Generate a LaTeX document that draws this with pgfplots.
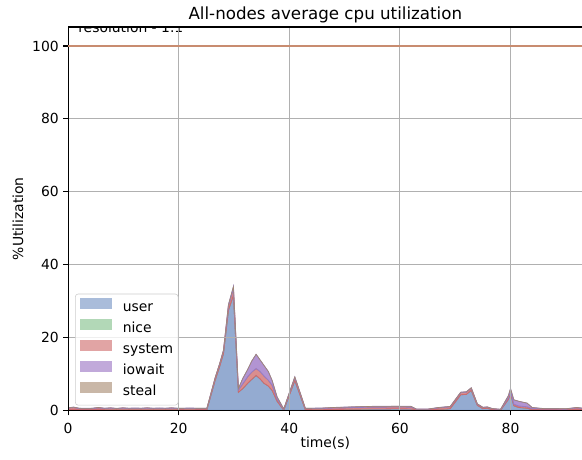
\documentclass[border=0pt]{standalone}
\usepackage{fontspec}
\setmainfont{DejaVu Sans}
\usepackage{pgfplots}
\usepackage{pgfplotstable}
\pgfplotsset{compat=1.18}
\definecolor{cuser}{RGB}{148,171,209}
\definecolor{cnice}{RGB}{160,206,166}
\definecolor{csys}{RGB}{218,142,142}
\definecolor{cio}{RGB}{178,148,210}
\definecolor{csteal}{RGB}{188,166,145}
\definecolor{euser}{RGB}{105,137,189}
\definecolor{enice}{RGB}{110,180,125}
\definecolor{esys}{RGB}{205,106,110}
\definecolor{eio}{RGB}{150,125,195}
\definecolor{esteal}{RGB}{160,135,110}
\definecolor{cline}{RGB}{200,140,112}
\def\u{0.72pt}
\pgfplotstableread{
t user nice system iowait steal
0 0.2 0 0.4 0.1 0
1 0.3 0 0.5 0.1 0
2 0.2 0 0.3 0.1 0
3.3 0.2 0 0.3 0.05 0
4.4 0.2 0 0.3 0.1 0
5.5 0.3 0 0.4 0.1 0
6.6 0.2 0 0.3 0.1 0
7.7 0.2 0 0.4 0.1 0
8.8 0.2 0 0.3 0.05 0
9.9 0.2 0 0.4 0.1 0
11 0.2 0 0.3 0.1 0
12.1 0.2 0 0.35 0.1 0
13.2 0.2 0 0.3 0.1 0
14.3 0.2 0 0.4 0.1 0
15.4 0.2 0 0.3 0.1 0
16.5 0.2 0 0.35 0.1 0
17.6 0.2 0 0.3 0.1 0
18.7 0.2 0 0.4 0.1 0
19.8 0.2 0 0.3 0.1 0
20.9 0.2 0 0.3 0.1 0
22 0.2 0 0.35 0.1 0
23.1 0.2 0 0.3 0.1 0
24.2 0.2 0 0.3 0.1 0
25.1 0.2 0 0.3 0.1 0
26.6 8.3 0 0.6 0.1 0
27.4 12 0 0.7 0.1 0
28.1 15.6 0 0.8 0.1 0
29 27.5 0 1.2 0.3 0
29.9 31.6 0 1.8 0.6 0
30.8 5.0 0 0.6 0.4 0
31.6 6.0 0 1.3 1.5 0
32.5 7.5 0 1.8 2.0 0
33.2 8.5 0 2.0 3.0 0
34 9.6 0 1.9 3.9 0
34.7 8.7 0 2.0 3.2 0
35.4 7.5 0 2.0 2.9 0
36.2 6.7 0 1.6 2.4 0
36.9 5.5 0 1.4 1.3 0
37.8 2.5 0 0.6 0.6 0
39 0.1 0 0.2 0.1 0
41 8.2 0 0.8 0.2 0
42.9 0.2 0 0.3 0.1 0
44 0.2 0 0.3 0.1 0
46 0.2 0 0.35 0.1 0
48 0.25 0 0.4 0.15 0
50 0.3 0 0.4 0.2 0
52 0.35 0 0.45 0.2 0
55 0.4 0 0.5 0.2 0
57 0.4 0 0.5 0.2 0
59 0.45 0 0.5 0.2 0
62 0.4 0 0.5 0.2 0
63 0.1 0 0.2 0.05 0
65 0.1 0 0.2 0.05 0
67 0.3 0 0.4 0.1 0
68.5 0.4 0 0.5 0.1 0
69.1 0.5 0 0.5 0.1 0
71 4.3 0 0.6 0.1 0
72 4.4 0 0.6 0.1 0
72.9 5.5 0 0.6 0.1 0
74 1.4 0 0.3 0.1 0
75 0.5 0 0.3 0.05 0
75.8 0.6 0 0.3 0.05 0
76.7 0.2 0 0.25 0.05 0
78.2 0.05 0 0.2 0.05 0
79.6 3.0 0 0.5 0.5 0
80 4.6 0 0.6 0.8 0
80.6 1.3 0 0.4 1.2 0
81.5 0.8 0 0.4 1.3 0
83 0.6 0 0.4 1.0 0
83.9 0.2 0 0.3 0.3 0
86 0.1 0 0.3 0.1 0
88 0.1 0 0.3 0.1 0
90 0.1 0 0.25 0.1 0
92 0.3 0 0.4 0.1 0
93.1 0.2 0 0.3 0.1 0
}\cpudata
\begin{document}
\begin{tikzpicture}
\begin{axis}[
  scale only axis,
  width=514*\u, height=383*\u,
  xmin=0, xmax=93.03, ymin=0, ymax=105.2,
  xtick={0,20,40,60,80}, ytick={0,20,40,60,80},
  extra y ticks={100},
  extra y tick style={grid=major, major grid style={color=cline, line width=1pt}},
  tick align=outside, xtick pos=bottom, ytick pos=left,
  major tick length=5*\u,
  tick style={black, line width=0.8pt},
  axis line style={line width=0.8pt},
  grid=major,
  major grid style={color=black!31, line width=0.8pt},
  axis on top,
  /pgf/number format/assume math mode=true,
  tick label style={font=\fontsize{10}{12}\selectfont},
  xticklabel style={anchor=base, inner sep=0pt, yshift=-18*\u},
  yticklabel style={anchor=east, inner sep=0pt, xshift=-4*\u},
  title={All-nodes average cpu utilization},
  every axis title shift=0pt,
  title style={font=\fontsize{12}{14}\selectfont, at={(0.5,1)}, anchor=base, yshift=8*\u},
  xlabel={time(s)},
  xlabel style={font=\fontsize{10}{12}\selectfont, at={(axis description cs:0.5,0)}, anchor=base, yshift=-37*\u},
  ylabel={\%Utilization},
  ylabel style={font=\fontsize{10}{12}\selectfont, at={(axis description cs:0,0.5)}, anchor=center, rotate=0, yshift=50*\u},
  legend style={at={(0,0)}, anchor=south west, xshift=7*\u, yshift=5*\u,
    font=\fontsize{10}{12}\selectfont, draw=black!20, rounded corners=2pt,
    fill=white, fill opacity=0.8, text opacity=1, inner xsep=5*\u, inner ysep=3*\u,
    row sep=0pt, column sep=0pt,
    nodes={inner sep=0pt, text height=14*\u, text depth=7*\u}},
  legend cell align=left,
  legend image code/.code={\fill[#1, draw=none, sharp corners] (0,-1*\u) rectangle (32*\u,10*\u); \path (42*\u,0);},
]
\addplot[stack plots=y, fill=cuser, draw=euser, line width=0.6pt] table[x=t, y=user] {\cpudata} \closedcycle;
\addlegendentry{user}
\addplot[stack plots=y, fill=cnice, draw=enice, line width=0.4pt] table[x=t, y=nice] {\cpudata} \closedcycle;
\addlegendentry{nice}
\addplot[stack plots=y, fill=csys, draw=esys, line width=0.6pt] table[x=t, y=system] {\cpudata} \closedcycle;
\addlegendentry{system}
\addplot[stack plots=y, fill=cio, draw=eio, line width=0.6pt] table[x=t, y=iowait] {\cpudata} \closedcycle;
\addlegendentry{iowait}
\addplot[stack plots=y, fill=csteal, draw=esteal, line width=0.4pt] table[x=t, y=steal] {\cpudata} \closedcycle;
\addlegendentry{steal}
\node[anchor=base west, font=\fontsize{10}{12}\selectfont, inner sep=0pt] at (axis cs:1.8,103.6) {resolution - 1.1};
\coordinate (SW) at (rel axis cs:0,0);
\coordinate (NE) at (rel axis cs:1,1);
\end{axis}
\pgfresetboundingbox
\path[use as bounding box] ([shift={(-68*\u,-49*\u)}]SW) rectangle ([shift={(-0.42pt,27*\u)}]NE);
\end{tikzpicture}
\end{document}
